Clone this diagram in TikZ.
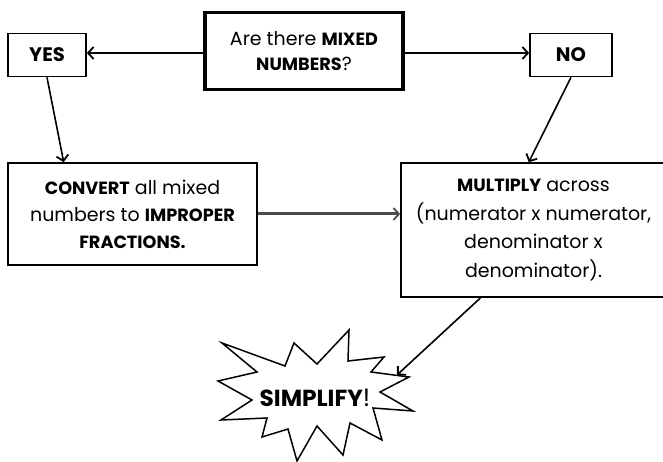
\documentclass[tikz,border=0pt]{standalone}
\usepackage{fontspec}
\setmainfont{Poppins}[BoldFeatures={Scale=0.93}]
\usetikzlibrary{arrows.meta}
\begin{document}
\begin{tikzpicture}[x=1pt,y=-1pt,
  box/.style={draw, line width=1.7pt, rectangle, align=center, inner sep=0pt,
    font=\fontsize{19}{28}\selectfont},
  arr/.style={-{Straight Barb[length=5.5pt,width=12pt,line width=1.8pt]}, line width=1.6pt},
  thickarr/.style={-{Straight Barb[length=5.5pt,width=12pt,line width=1.8pt]}, line width=3pt, draw=black!70},
  burst/.style={draw, line width=1.5pt, line join=miter, fill=white},
]
\useasboundingbox (0,0) rectangle (663,462);
\node[box, line width=3.2pt, minimum width=198pt, minimum height=77pt,
  font=\fontsize{19}{25}\selectfont] (q) at (304,51)
  {Are there \textbf{MIXED}\\\textbf{NUMBERS}?};
\node[box, minimum width=78pt, minimum height=43pt, font=\fontsize{21}{26}\selectfont] (yes) at (47,55) {\textbf{YES}};
\node[box, minimum width=82pt, minimum height=43pt, font=\fontsize{21}{26}\selectfont] (no) at (571,55) {\textbf{NO}};
\node[box, minimum width=249pt, minimum height=102pt, font=\fontsize{19}{27}\selectfont] (conv) at (132.5,214)
  {\textbf{CONVERT} all mixed\\numbers to \textbf{IMPROPER}\\\textbf{FRACTIONS.}};
\node[box, minimum width=265pt, minimum height=134pt, font=\fontsize{19}{28.5}\selectfont] (mult) at (533.5,230)
  {\textbf{MULTIPLY} across\\(numerator x numerator,\\denominator x\\denominator).};
% starburst
\draw[burst] (222,343) -- (285,366) -- (294,343) -- (317,364) -- (349,330) -- (348,361)
  -- (384,357) -- (371,372) -- (409,377) -- (380,392) -- (413,411) -- (373,408)
  -- (382,440) -- (350,423) -- (343,455) -- (317,426) -- (297,461) -- (288,429)
  -- (262,437) -- (267,418) -- (221,420) -- (252,400) -- (218,381) -- (257,372) -- cycle;
\node[font=\fontsize{25}{30}\selectfont, inner sep=0pt] (simp) at (315,398) {\textbf{SIMPLIFY}!};
\coordinate (starin) at (397,375);
% connectors
\draw[arr] (q.west |- 0,53) -- (yes.east |- 0,53);
\draw[arr] (q.east |- 0,53) -- (no.west |- 0,53);
\draw[arr] (yes.south) -- (conv.143.7);
\draw[arr] (no.south) -- (mult.94.3);
\draw[thickarr] (conv.east) -- (conv.east -| mult.west);
\draw[arr] (mult.232.7) -- (starin);
\end{tikzpicture}
\end{document}
